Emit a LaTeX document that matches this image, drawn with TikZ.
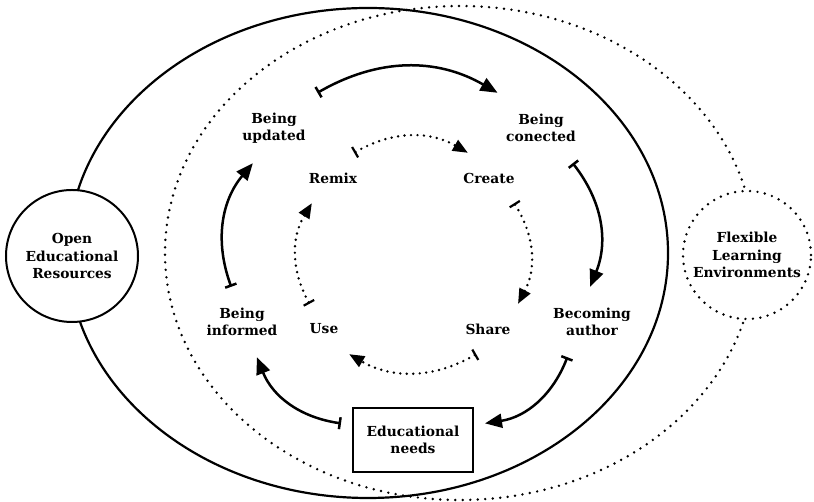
\documentclass[tikz,border=0pt]{standalone}
\usepackage{fontspec}
\setmainfont{DejaVu Serif}
\usetikzlibrary{arrows.meta}
\begin{document}
\begin{tikzpicture}[x=1pt,y=1pt,
	lbl/.style={font=\fontsize{13.8}{17.5}\selectfont\bfseries, align=center, inner sep=0pt},
	outlbl/.style={lbl, minimum width=100, minimum height=70},
	inlbl/.style={lbl, minimum width=60, minimum height=50},
	ring/.style={lbl, draw, circle, line width=2pt, fill=white},
	dots/.style={line width=2.7pt, line cap=round, dash pattern=on 0pt off 7.5pt},
	cycarrow/.style={line width=2.5pt, {Bar[width=12pt]}-{Triangle[length=17pt,width=14pt]}},
	inarrow/.style={dots, dash pattern=on 0pt off 6.5pt, {Bar[width=12pt,line width=2.2pt]}-{Triangle[length=15pt,width=12pt]}}]
			\useasboundingbox (0,0) rectangle (814,502);

			\draw[line width=2.2pt] (368,249) ellipse [x radius=300, y radius=245];
			\draw[dots] (460,249) ellipse [x radius=295, y radius=247];

			\node (oer) at (72,246) [ring, minimum size=132] {Open\\Educational\\Resources};
			\node (fle) at (747,247) [ring, dots, minimum size=128] {Flexible\\Learning\\Environments};

			\node (upd) at (274,374) [outlbl] {Being\\updated};
			\node (con) at (541,374) [outlbl] {Being\\conected};
			\node (aut) at (592,180) [outlbl] {Becoming\\author};
			\node (inf) at (242,180) [outlbl] {Being\\informed};
			\node (edu) at (413,62) [lbl, draw, line width=1.3pt, minimum width=120, minimum height=64, outer sep=12pt] {Educational\\needs};

			\node (rem) at (333,324) [inlbl] {Remix};
			\node (cre) at (489,324) [inlbl] {Create};
			\node (sha) at (488,173) [inlbl] {Share};
			\node (use) at (324,173) [inlbl] {Use};

			\draw[cycarrow] (upd.39) to[bend left=30] (con.141);
			\draw[cycarrow] (con.-48) to[bend left=30] (aut.93);
			\draw[cycarrow] (aut.-125) to[bend left=30] (edu.13);
			\draw[cycarrow] (edu.167) to[bend left=30] (inf.-67);
			\draw[cycarrow] (inf.107) to[bend left=30] (upd.-121);

			\draw[inarrow] (rem.50) to[bend left=30] (cre.130);
			\draw[inarrow] (cre.-45) to[bend left=30] (sha.40);
			\draw[inarrow] (sha.-115) to[bend left=30] (use.-45);
			\draw[inarrow] (use.120) to[bend left=30] (rem.-130);
		\end{tikzpicture}
\end{document}
